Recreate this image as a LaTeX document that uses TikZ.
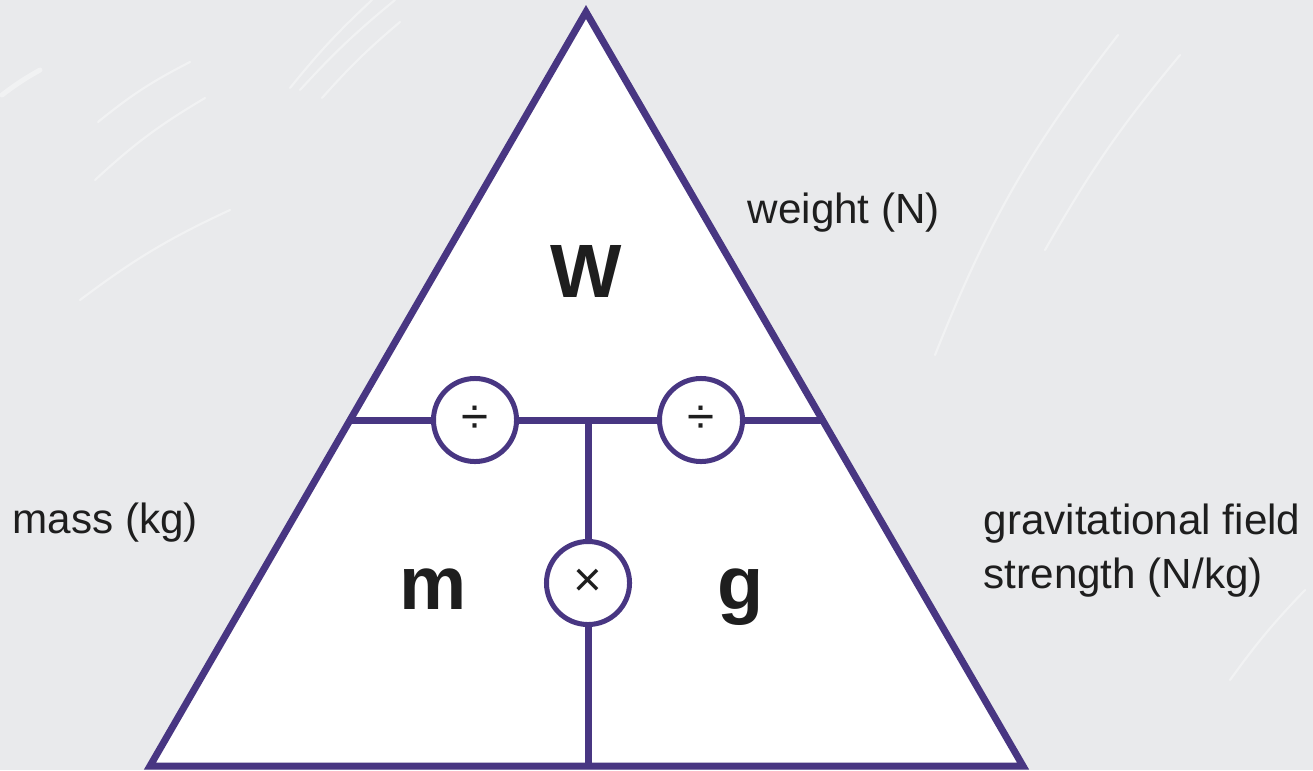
\documentclass[tikz,border=0pt]{standalone}
\usepackage{fontspec}
\setmainfont{Liberation Sans}
\definecolor{triPurple}{RGB}{72,54,130}
\definecolor{bgGrey}{RGB}{233,234,236}
\definecolor{inkGrey}{RGB}{30,30,30}
\begin{document}
\begin{tikzpicture}[x=0.01cm,y=-0.01cm,line join=miter,
  streak/.style={white,line width=0.6pt,opacity=0.4,line cap=round},
  opcircle/.style={circle,draw=triPurple,line width=0.05cm,fill=white,
    minimum size=0.83cm,inner sep=0pt,text=inkGrey,font=\fontsize{14}{16}\selectfont},
  symbol/.style={inner sep=0pt,text=inkGrey,font=\fontsize{21.5}{24}\selectfont\bfseries},
  quantity/.style={inner sep=0pt,text=inkGrey,font=\fontsize{12}{15.2}\selectfont,align=left}]
  \useasboundingbox (0,0) rectangle (1313,770);
  \fill[bgGrey] (0,0) rectangle (1313,770);
  % faint streaks in the background
  \draw[streak,line width=1.4pt] (2,95) to[bend left=4] (40,70);
  \draw[streak] (98,122) to[bend left=6] (190,62);
  \draw[streak] (95,180) to[bend left=6] (205,98);
  \draw[streak] (290,88) to[bend left=4] (372,0);
  \draw[streak] (300,90) to[bend left=4] (395,0);
  \draw[streak] (322,98) to[bend left=4] (400,22);
  \draw[streak] (935,355) to[bend left=8] (1118,35);
  \draw[streak] (1045,250) to[bend left=5] (1180,55);
  \draw[streak] (1230,680) to[bend left=4] (1305,590);
  \draw[streak] (80,300) to[bend left=6] (230,210);
  % triangle
  \coordinate (apex) at (586,12);
  \coordinate (bl) at (150,766);
  \coordinate (br) at (1023,766);
  \coordinate (hl) at (350,420);
  \coordinate (hr) at (822,420);
  \coordinate (junc) at (588,420);
  \coordinate (bm) at (588,766);
  \filldraw[fill=white,draw=triPurple,line width=0.07cm] (apex) -- (br) -- (bl) -- cycle;
  \node[opcircle] (div1) at (475,420) {÷};
  \node[opcircle] (div2) at (701,420) {÷};
  \node[opcircle] (times) at (588,583) {×};
  \draw[triPurple,line width=0.07cm] (hl) -- (div1) (div1) -- (div2) (div2) -- (hr);
  \draw[triPurple,line width=0.07cm] (junc) -- (times) (times) -- (bm);
  % letters
  \node[symbol,anchor=base] (w) at (586,297) {W};
  \node[symbol,anchor=base] (m) at (433,609) {m};
  \node[symbol,anchor=base] (g) at (741,609) {g};
  % labels
  \node[quantity,anchor=base west] (wlab) at (747,223) {weight (N)};
  \node[quantity,anchor=base west] (mlab) at (12,533) {mass (kg)};
  \node[quantity,anchor=base west] (glab) at (983,588) {gravitational field\\strength (N/kg)};
\end{tikzpicture}
\end{document}
